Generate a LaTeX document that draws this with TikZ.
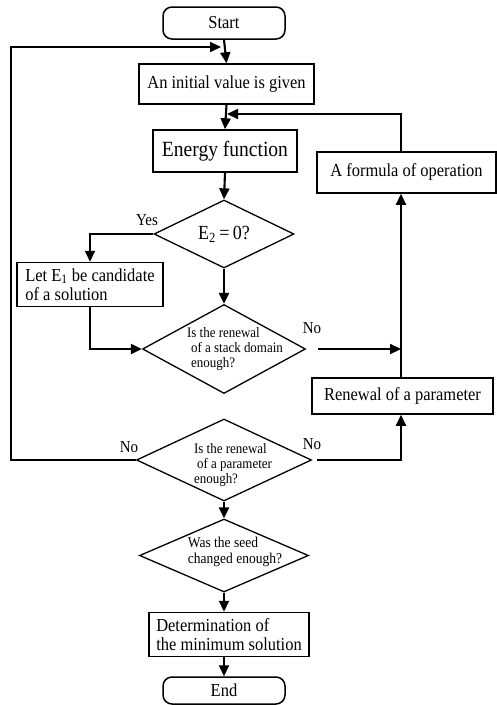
\documentclass[tikz,border=0pt]{standalone}
\usepackage{fontspec}
\setmainfont[FakeStretch=0.9]{Liberation Serif}
\usetikzlibrary{shapes.geometric,arrows.meta}
\begin{document}
\begin{tikzpicture}[x=1pt,y=-1pt,
  box/.style={draw,line width=1.5pt,inner sep=2pt,font=\fontsize{18.3}{19.5}\selectfont},
  term/.style={box,rounded corners=9pt},
  dia/.style={draw,diamond,line width=1.3pt,inner sep=0pt},
  dtext/.style={align=left,inner sep=0pt,font=\fontsize{14.4}{15}\selectfont},
  lab/.style={inner sep=0pt,font=\fontsize{16.7}{17}\selectfont},
  conn/.style={line width=2.1pt},
  arr/.style={conn,-{Triangle[length=11pt,width=10pt]}}]
\useasboundingbox (0,0) rectangle (497,705);
% nodes
\node[term,minimum width=122pt,minimum height=32pt] (start) at (224,23) {Start};
\node[box,minimum width=175pt,minimum height=40pt] (init) at (226.5,84) {An initial value is given};
\node[box,minimum width=144pt,minimum height=42pt,font=\fontsize{21.7}{22}\selectfont] (energy) at (225,151) {Energy function};
\node[box,minimum width=179pt,minimum height=41pt] (formula) at (406.5,172.5) {\raisebox{3pt}{A formula of operation}};
\node[dia,minimum width=140pt,minimum height=64pt,font=\fontsize{20}{20}\selectfont] (e2) at (224,234) {E\textsubscript{2}\,=\,0?};
\node[box,minimum width=146pt,minimum height=44pt,align=left,inner sep=1pt] (e1) at (90,284.5) {Let E\textsubscript{1} be candidate\\of a solution};
\node[dia,minimum width=163pt,minimum height=89pt] (stack) at (224,349) {};
\node[dtext] (stackt) at (237,349) {\hspace*{-4pt}Is the renewal\\of a stack domain\\enough?};
\node[box,minimum width=181pt,minimum height=36pt] (renew) at (402.5,396) {Renewal of a parameter};
\node[dia,minimum width=175pt,minimum height=82pt] (param) at (224,460) {};
\node[dtext] (paramt) at (233,465) {Is the renewal\\\hspace*{3pt}of a parameter\\enough?};
\node[dia,minimum width=169pt,minimum height=73pt] (seed) at (224,555.5) {};
\node[dtext,font=\fontsize{15}{16}\selectfont] (seedt) at (235,552) {Was the seed\\changed enough?};
\node[box,minimum width=160pt,minimum height=44pt,align=left,inner sep=1pt] (det) at (229,634.5) {Determination of\\the minimum solution};
\node[term,minimum width=122pt,minimum height=27pt] (end) at (224,690.5) {End};
% labels
\node[lab] (yes) at (147,220) {Yes};
\node[lab] (no1) at (312,328) {No};
\node[lab] (no2) at (129,447) {No};
\node[lab] (no3) at (312,444) {No};
% junction coordinates
\coordinate (j1) at (221,47);
\coordinate (j2) at (227,114);
\coordinate (j3) at (401,349);
\coordinate (xl) at (11,460);
% connectors
\draw[arr] (start.south) -- (init.north);
\draw[arr] (param.west) -- (xl) |- (j1);
\draw[arr] (init.south) -- (energy.north);
\draw[arr] (formula.north -| j3) |- (j2);
\draw[arr] (energy.south) -- (e2.north);
\draw[arr] (e2.west) -| (e1.north);
\draw[arr] (e2.south) -- (stack.north);
\draw[arr] (e1.south) |- (stack.west);
\draw[arr] ([xshift=12pt]stack.east) -- (j3);
\draw[arr] (renew.north -| j3) -- (formula.south -| j3);
\draw[arr] ([xshift=5pt]param.east) -| (renew.south -| j3);
\draw[arr] (param.south) -- (seed.north);
\draw[arr] (seed.south) -- (det.north -| seed.south);
\draw[arr] (det.south -| end.north) -- (end.north);
\end{tikzpicture}
\end{document}
